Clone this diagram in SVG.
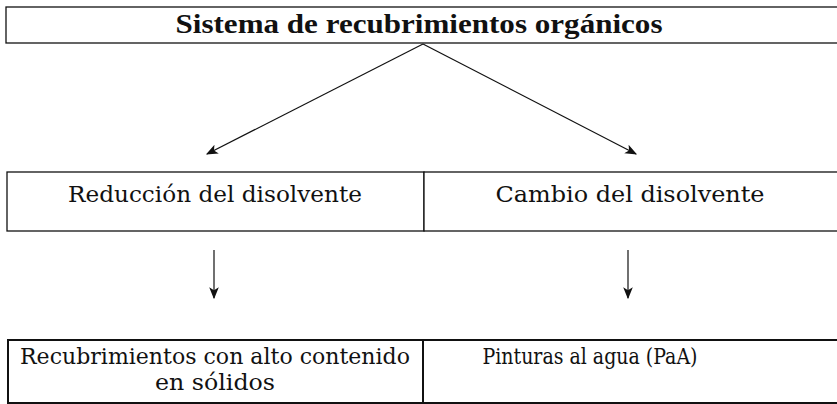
<svg xmlns="http://www.w3.org/2000/svg" width="837" height="404" viewBox="0 0 837 404">
<style>
.box{fill:#fff;stroke:#111;stroke-width:1.3}
.bbox{fill:#fff;stroke:#111;stroke-width:2}
.t{font-family:"DejaVu Serif","Liberation Serif",serif;font-size:23px;fill:#111;text-anchor:middle}
.tb{font-family:"Liberation Serif","DejaVu Serif",serif;font-weight:bold;font-size:27px}
.c{stroke:#111;stroke-width:1.2;fill:none}
</style>
<defs>
<marker id="ah" viewBox="0 0 10 10" refX="9" refY="5" markerWidth="12" markerHeight="12" markerUnits="userSpaceOnUse" orient="auto">
<path d="M0,1 L10,5 L0,9 L2.5,5 Z" fill="#111"/>
</marker>
</defs>
<rect width="837" height="404" fill="#fff"/>
<g id="top">
<rect class="box" x="6" y="7" width="840" height="36"/>
<text class="t tb" x="419" y="33" textLength="487" lengthAdjust="spacingAndGlyphs">Sistema de recubrimientos orgánicos</text>
</g>
<g id="reduccion">
<rect class="box" x="7" y="172" width="417" height="59"/>
<text class="t" x="215" y="202" textLength="294" lengthAdjust="spacingAndGlyphs">Reducción del disolvente</text>
</g>
<g id="cambio">
<rect class="box" x="424" y="172" width="420" height="59"/>
<text class="t" x="630" y="202" textLength="269" lengthAdjust="spacingAndGlyphs">Cambio del disolvente</text>
</g>
<g id="solidos">
<rect class="bbox" x="8" y="340" width="415" height="63"/>
<text class="t" x="215" y="364" textLength="390" lengthAdjust="spacingAndGlyphs">Recubrimientos con alto contenido</text>
<text class="t" x="215" y="390" textLength="120" lengthAdjust="spacingAndGlyphs">en sólidos</text>
</g>
<g id="pinturas">
<rect class="bbox" x="423" y="340" width="420" height="63"/>
<text class="t" x="590" y="364" textLength="215" lengthAdjust="spacingAndGlyphs">Pinturas al agua (PaA)</text>
</g>
<g id="connectors">
<line class="c" x1="423" y1="44" x2="207" y2="154" marker-end="url(#ah)"/>
<line class="c" x1="423" y1="44" x2="636" y2="154" marker-end="url(#ah)"/>
<line class="c" x1="214" y1="250" x2="214" y2="298" marker-end="url(#ah)"/>
<line class="c" x1="628" y1="250" x2="628" y2="298" marker-end="url(#ah)"/>
</g>
</svg>
